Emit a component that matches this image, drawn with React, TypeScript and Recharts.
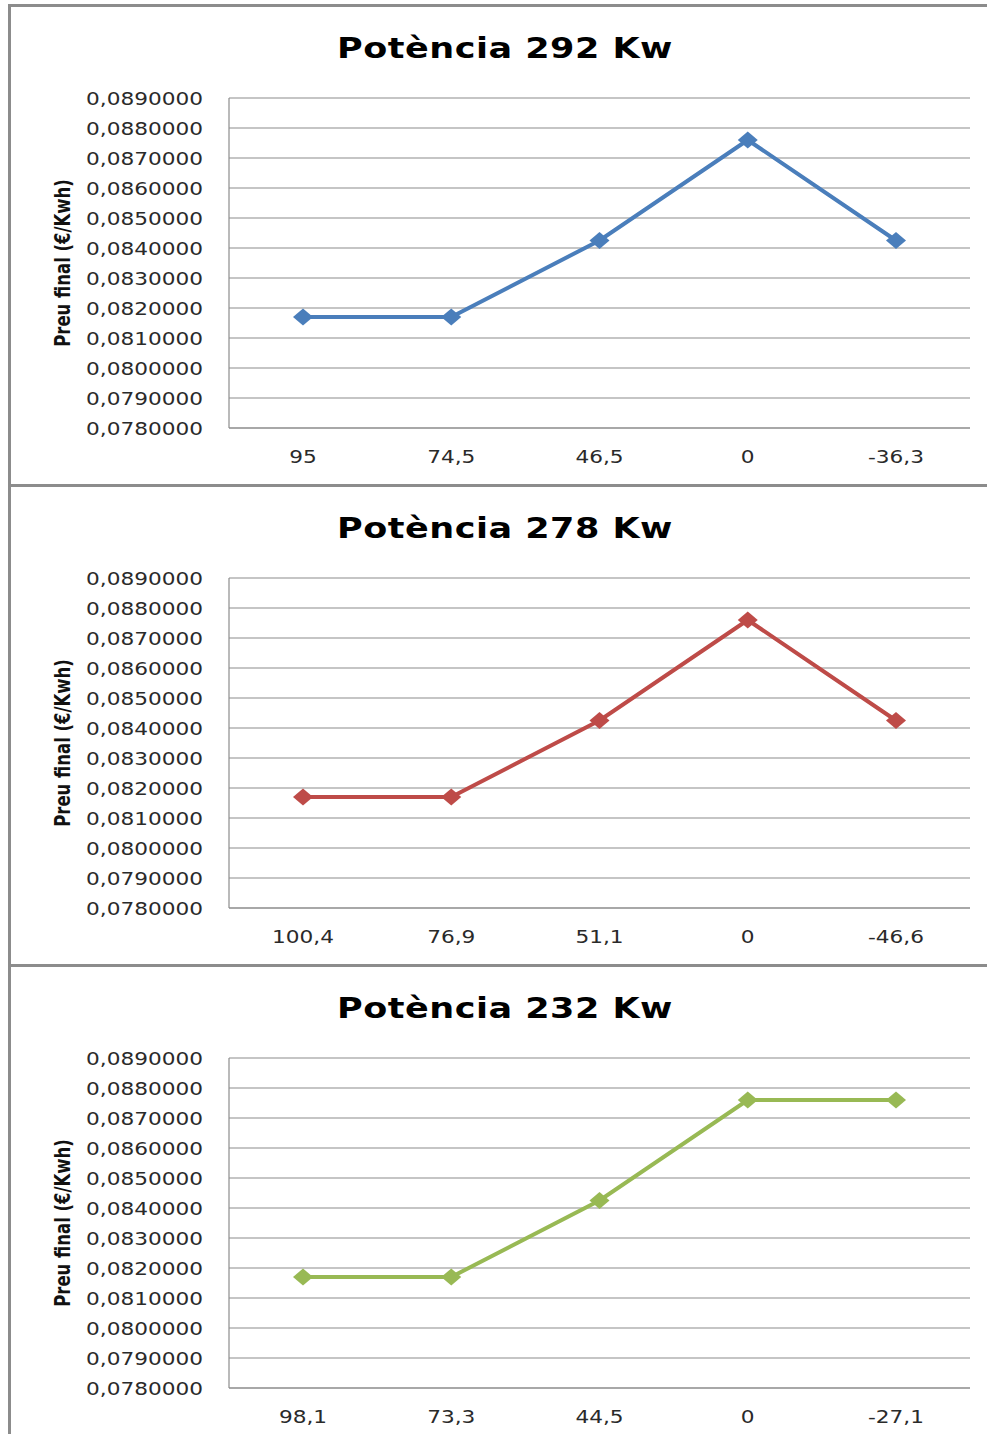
import React from 'react';
import { LineChart, Line, XAxis, YAxis, CartesianGrid } from 'recharts';

// x categories (displayed as-is, Catalan decimal comma)
const cats292 = ['95', '74,5', '46,5', '0', '-36,3'];
const cats278 = ['100,4', '76,9', '51,1', '0', '-46,6'];
const cats232 = ['98,1', '73,3', '44,5', '0', '-27,1'];

// Preu final (€/Kwh)
const preu292 = [0.0817, 0.0817, 0.08425, 0.0876, 0.08425];
const preu278 = [0.0817, 0.0817, 0.08425, 0.0876, 0.08425];
const preu232 = [0.0817, 0.0817, 0.08425, 0.0876, 0.0876];

const yTicks = [0.078, 0.079, 0.08, 0.081, 0.082, 0.083, 0.084, 0.085, 0.086, 0.087, 0.088, 0.089];

const GRID = '#8c8c8c';
const TXT = '#2a2a2a';
const FONT = '"DejaVu Sans", Verdana, sans-serif';
const STRETCH = 1.17; // source picture is a bit wide

const fmtY = (v: number) => v.toFixed(7).replace('.', ',');

const diamond = (color: string) => (props: any) => {
  const { cx, cy, index } = props;
  if (cx == null || cy == null) return <g key={index} />;
  const w = 10;
  const h = 8.5;
  return (
    <polygon
      key={index}
      points={`${cx - w},${cy} ${cx},${cy - h} ${cx + w},${cy} ${cx},${cy + h}`}
      fill={color}
    />
  );
};

// wide tick text
const WideTick = (anchor: 'middle' | 'end', dy: string, fmt?: (v: any) => string) => (props: any) => {
  const { x, y, payload } = props;
  const label = fmt ? fmt(payload.value) : payload.value;
  return (
    <g transform={`translate(${x},${y}) scale(${STRETCH},1)`}>
      <text x={0} y={0} dy={dy} textAnchor={anchor} fill={TXT} fontFamily={FONT} fontSize={18.5}>
        {label}
      </text>
    </g>
  );
};

const AxisTitle = (props: any) => {
  const vb = props.viewBox || { x: 0, y: 91, width: 218, height: 330 };
  const x = vb.x + 52;
  const y = vb.y + vb.height / 2;
  return (
    <g transform={`translate(${x},${y}) rotate(-90) scale(1,1.3)`}>
      <text
        x={0}
        y={0}
        textAnchor="middle"
        dominantBaseline="central"
        fontFamily={FONT}
        fontWeight="bold"
        fontSize={16.5}
        fill="#111"
      >
        Preu final (€/Kwh)
      </text>
    </g>
  );
};

interface PanelProps {
  title: string;
  categories: string[];
  values: number[];
  color: string;
  top: number;
}

const Panel: React.FC<PanelProps> = ({ title, categories, values, color, top }) => {
  const data = categories.map((c, i) => ({ cat: c, preu: values[i] }));
  return (
    <div
      style={{
        position: 'absolute',
        left: 8,
        top,
        width: 979,
        height: 480,
        boxSizing: 'border-box',
        borderTop: `3px solid ${GRID}`,
        borderLeft: `3px solid ${GRID}`,
        background: '#fff',
      }}
    >
      <div
        style={{
          position: 'absolute',
          left: 0,
          top: 28,
          width: 988,
          textAlign: 'center',
          fontFamily: FONT,
          fontWeight: 'bold',
          fontSize: 28,
          lineHeight: '28px',
          letterSpacing: 0.4,
          color: '#000',
          whiteSpace: 'nowrap',
          transform: 'scaleX(1.25)',
          transformOrigin: '50% 50%',
        }}
      >
        {title}
      </div>
      <LineChart width={976} height={477} data={data} margin={{ top: 91, right: 17, left: 0, bottom: 16 }}>
        <CartesianGrid vertical={false} stroke={GRID} strokeWidth={1.2} />
        <XAxis
          dataKey="cat"
          height={40}
          padding={{ left: 74, right: 74 }}
          tickLine={false}
          tickSize={0}
          tickMargin={22}
          axisLine={{ stroke: GRID, strokeWidth: 1.2 }}
          tick={WideTick('middle', '0.71em')}
          interval={0}
        />
        <YAxis
          width={218}
          domain={[0.078, 0.089]}
          ticks={yTicks}
          tickLine={false}
          tickSize={0}
          tickMargin={26}
          allowDataOverflow
          axisLine={{ stroke: GRID, strokeWidth: 1.2 }}
          tick={WideTick('end', '0.355em', fmtY)}
          label={{ content: AxisTitle }}
        />
        <Line
          type="linear"
          dataKey="preu"
          stroke={color}
          strokeWidth={4}
          dot={diamond(color)}
          activeDot={false}
          isAnimationActive={false}
        />
      </LineChart>
    </div>
  );
};

export default function App() {
  return (
    <div
      style={{
        position: 'absolute',
        left: 0,
        top: 0,
        width: 987,
        height: 1434,
        overflow: 'hidden',
        background: '#fff',
      }}
    >
      <Panel title="Potència 292 Kw" categories={cats292} values={preu292} color="#4a7ebb" top={4} />
      <Panel title="Potència 278 Kw" categories={cats278} values={preu278} color="#be4b48" top={484} />
      <Panel title="Potència 232 Kw" categories={cats232} values={preu232} color="#98b954" top={964} />
    </div>
  );
}
